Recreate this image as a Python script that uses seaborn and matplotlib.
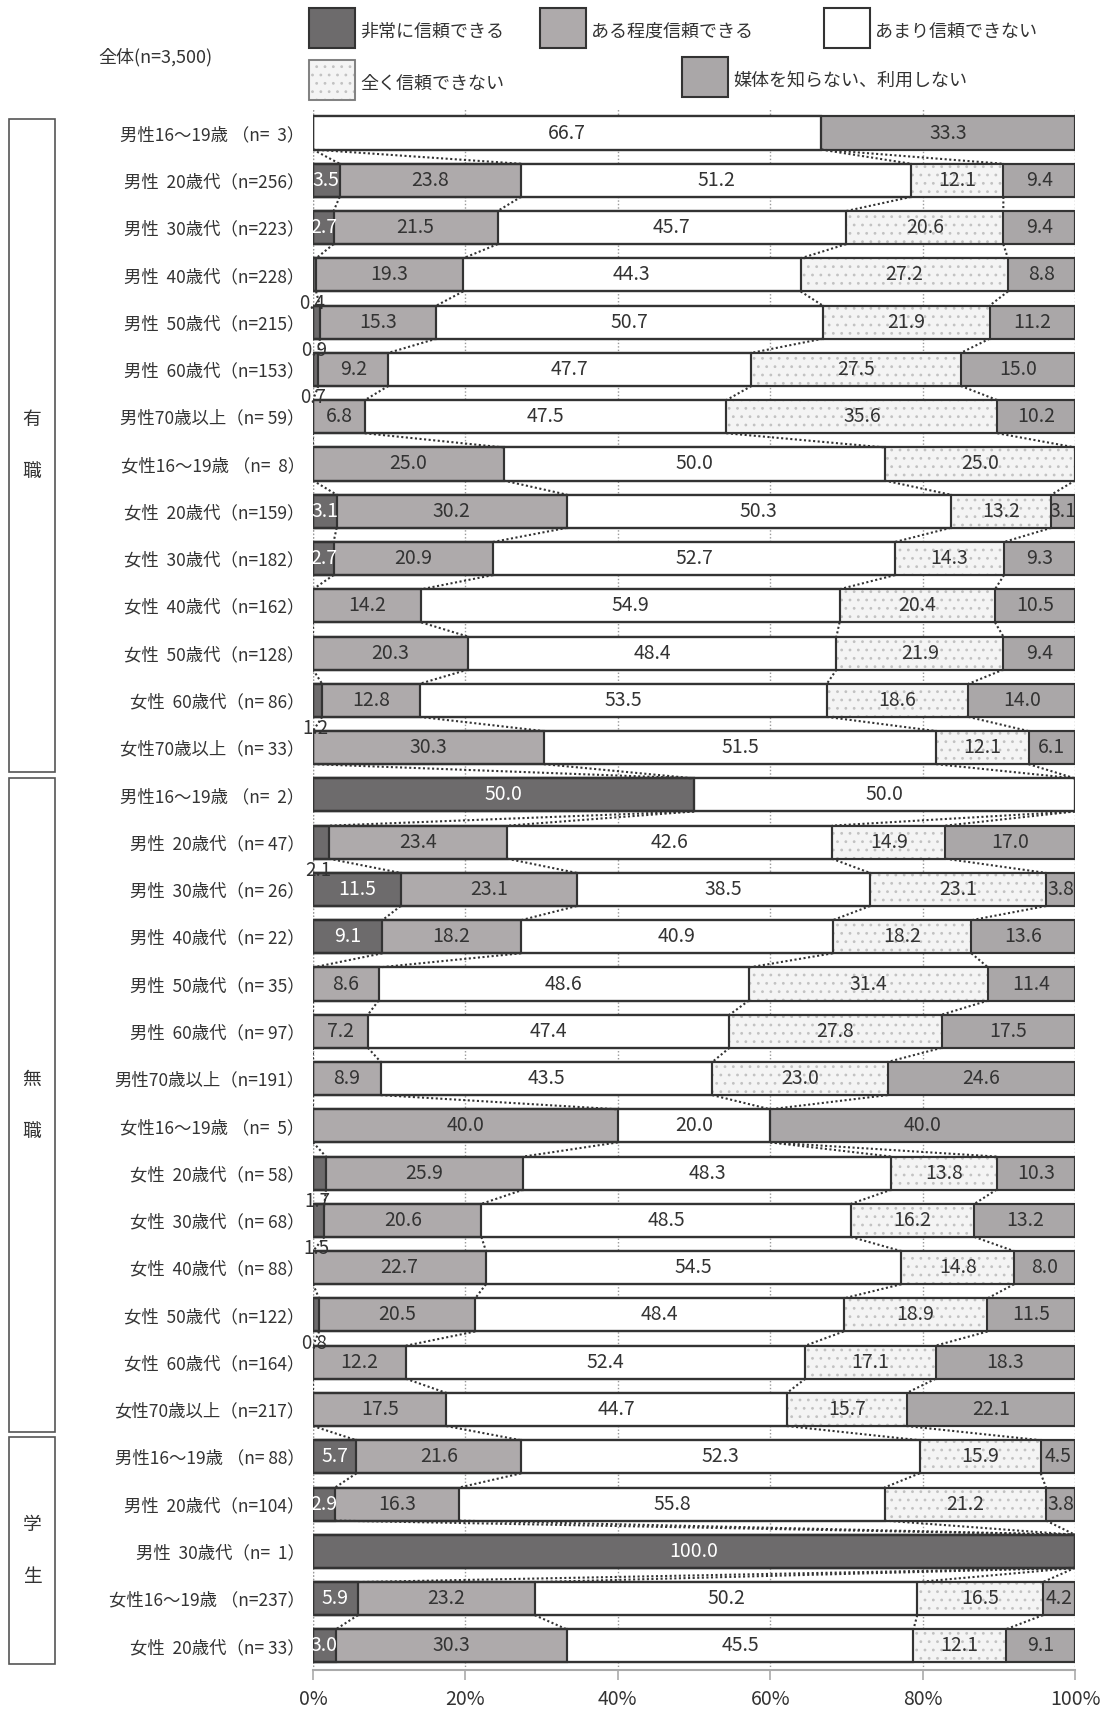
import numpy as np
import seaborn as sns
import matplotlib.pyplot as plt
from matplotlib.patches import Rectangle

sns.set_style('white')
plt.rcParams['font.family'] = ['Noto Sans CJK JP', 'DejaVu Sans']
plt.rcParams['hatch.linewidth'] = 0.8

# データ
row_labels = [
    "男性16～19歳 （n=  3）", "男性  20歳代（n=256）", "男性  30歳代（n=223）", "男性  40歳代（n=228）",
    "男性  50歳代（n=215）", "男性  60歳代（n=153）", "男性70歳以上（n= 59）",
    "女性16～19歳 （n=  8）", "女性  20歳代（n=159）", "女性  30歳代（n=182）", "女性  40歳代（n=162）",
    "女性  50歳代（n=128）", "女性  60歳代（n= 86）", "女性70歳以上（n= 33）",
    "男性16～19歳 （n=  2）", "男性  20歳代（n= 47）", "男性  30歳代（n= 26）", "男性  40歳代（n= 22）",
    "男性  50歳代（n= 35）", "男性  60歳代（n= 97）", "男性70歳以上（n=191）",
    "女性16～19歳 （n=  5）", "女性  20歳代（n= 58）", "女性  30歳代（n= 68）", "女性  40歳代（n= 88）",
    "女性  50歳代（n=122）", "女性  60歳代（n=164）", "女性70歳以上（n=217）",
    "男性16～19歳 （n= 88）", "男性  20歳代（n=104）", "男性  30歳代（n=  1）",
    "女性16～19歳 （n=237）", "女性  20歳代（n= 33）",
]
series_names = ["非常に信頼できる", "ある程度信頼できる", "あまり信頼できない",
                "全く信頼できない", "媒体を知らない、利用しない"]

very = [0, 3.5, 2.7, 0.4, 0.9, 0.7, 0,
        0, 3.1, 2.7, 0, 0, 1.2, 0,
        50.0, 2.1, 11.5, 9.1, 0, 0, 0,
        0, 1.7, 1.5, 0, 0.8, 0, 0,
        5.7, 2.9, 100.0, 5.9, 3.0]
some = [0, 23.8, 21.5, 19.3, 15.3, 9.2, 6.8,
        25.0, 30.2, 20.9, 14.2, 20.3, 12.8, 30.3,
        0, 23.4, 23.1, 18.2, 8.6, 7.2, 8.9,
        40.0, 25.9, 20.6, 22.7, 20.5, 12.2, 17.5,
        21.6, 16.3, 0, 23.2, 30.3]
notmuch = [66.7, 51.2, 45.7, 44.3, 50.7, 47.7, 47.5,
           50.0, 50.3, 52.7, 54.9, 48.4, 53.5, 51.5,
           50.0, 42.6, 38.5, 40.9, 48.6, 47.4, 43.5,
           20.0, 48.3, 48.5, 54.5, 48.4, 52.4, 44.7,
           52.3, 55.8, 0, 50.2, 45.5]
notatall = [0, 12.1, 20.6, 27.2, 21.9, 27.5, 35.6,
            25.0, 13.2, 14.3, 20.4, 21.9, 18.6, 12.1,
            0, 14.9, 23.1, 18.2, 31.4, 27.8, 23.0,
            0, 13.8, 16.2, 14.8, 18.9, 17.1, 15.7,
            15.9, 21.2, 0, 16.5, 12.1]
unknown = [33.3, 9.4, 9.4, 8.8, 11.2, 15.0, 10.2,
           0, 3.1, 9.3, 10.5, 9.4, 14.0, 6.1,
           0, 17.0, 3.8, 13.6, 11.4, 17.5, 24.6,
           40.0, 10.3, 13.2, 8.0, 11.5, 18.3, 22.1,
           4.5, 3.8, 0, 4.2, 9.1]

groups = ["有職", "無職", "学生"]

colors = ["#6d6b6c", "#aeaaab", "#ffffff", "#f4f4f4", "#aaa7a8"]
edge = "#333333"
W, H = 1107, 1712

vals = np.array([very, some, notmuch, notatall, unknown]).T
cum = np.cumsum(vals, axis=1)
cum = cum / cum[:, -1:] * 100
starts = np.hstack([np.zeros((len(vals), 1)), cum[:, :-1]])
rows = list(range(len(row_labels)))

fig = plt.figure(figsize=(W / 100, H / 100), dpi=100)
ax = fig.add_axes([313 / W, 1 - 1670 / H, 762 / W, (1670 - 109.4) / H])

bar_h = 0.7
# 累積値の棒を大きい順に重ねる
for k in reversed(range(5)):
    if k == 3:
        sns.barplot(x=cum[:, k], y=rows, orient='h', color=colors[k], saturation=1,
                    width=bar_h, edgecolor='#c2c2c2', linewidth=0, errorbar=None, ax=ax)
        for p in ax.containers[-1]:
            p.set_hatch('..')
    else:
        sns.barplot(x=cum[:, k], y=rows, orient='h', color=colors[k], saturation=1,
                    width=bar_h, edgecolor=edge, linewidth=1.5, errorbar=None, ax=ax)
# 枠線
for k in range(5):
    sns.barplot(x=cum[:, k], y=rows, orient='h', fill=False, color=edge,
                width=bar_h, linewidth=1.5, errorbar=None, ax=ax)

# 区分線
for i in range(len(rows) - 1):
    for k in range(4):
        ax.plot([cum[i, k], cum[i + 1, k]], [i + bar_h / 2, i + 1 - bar_h / 2],
                ls=(0, (1, 1.2)), color=edge, lw=1.5, zorder=3)

# 数値ラベル
for i in rows:
    for k in range(5):
        v = vals[i, k]
        if v <= 0:
            continue
        xc = starts[i, k] + (cum[i, k] - starts[i, k]) / 2
        if v < 2.5:
            ax.text(xc - 0.3, i + bar_h / 2 + 0.03, f"{v:.1f}", ha='center', va='top',
                    fontsize=13.5, color='#333333', zorder=5)
        else:
            ax.text(xc, i, f"{v:.1f}", ha='center', va='center', fontsize=14,
                    color='white' if k == 0 else '#333333', zorder=5)

ax.set_xlim(0, 100)
ax.set_ylim(32.51, -0.5)
ax.set_xticks([0, 20, 40, 60, 80, 100])
ax.set_xticklabels([f"{t}%" for t in [0, 20, 40, 60, 80, 100]])
ax.set_yticks(rows)
ax.set_yticklabels(row_labels)
ax.set_xlabel('')
ax.set_ylabel('')
ax.set_axisbelow(True)
ax.grid(axis='x', ls=(0, (1, 1.5)), color='#999999', lw=1)
ax.grid(axis='y', visible=False)
ax.axvline(0, ls=(0, (1, 1.5)), color='#999999', lw=1, zorder=0)
for s in ['top', 'right', 'left']:
    ax.spines[s].set_visible(False)
ax.spines['bottom'].set_color('#aaaaaa')
ax.spines['bottom'].set_linewidth(1.5)
ax.tick_params(axis='x', length=7, width=1.2, color='#aaaaaa', pad=7, labelsize=14,
               labelcolor='#333333', bottom=True)
ax.tick_params(axis='y', length=0, pad=6, labelsize=12.5, labelcolor='#333333')

# グループ枠
def fx(x):
    return x / W

def fy(y):
    return 1 - y / H

boxes = [(119, 772), (778, 1432), (1437, 1664)]
for g, (y0, y1) in zip(groups, boxes):
    fig.add_artist(Rectangle((fx(9), fy(y1)), fx(55) - fx(9), (y1 - y0) / H,
                             transform=fig.transFigure, fill=False, edgecolor='#555555', lw=1.2))
    yc = (y0 + y1) / 2
    fig.text(fx(32), fy(yc - 26), g[0], ha='center', va='center', fontsize=13.5, color='#333333')
    fig.text(fx(32), fy(yc + 26), g[1], ha='center', va='center', fontsize=13.5, color='#333333')

# 凡例
fig.text(fx(98), fy(57), "全体(n=3,500)", ha='left', va='center', fontsize=13, color='#333333')
legend_pos = [(309, 8), (540, 8), (824, 8), (309, 60), (682, 57)]
for k, (lx, ly) in enumerate(legend_pos):
    r = Rectangle((fx(lx), fy(ly + 40)), 46 / W, 40 / H, transform=fig.transFigure,
                  facecolor=colors[k], edgecolor=edge, lw=1.5)
    if k == 3:
        r.set_hatch('..')
        r.set_edgecolor('#c2c2c2')
        fig.add_artist(r)
        fig.add_artist(Rectangle((fx(lx), fy(ly + 40)), 46 / W, 40 / H, transform=fig.transFigure,
                                 fill=False, edgecolor='#777777', lw=1.2))
    else:
        fig.add_artist(r)
    fig.text(fx(lx + 51), fy(ly + 24), series_names[k], ha='left', va='center',
             fontsize=13, color='#333333')

fig.savefig('out.png', dpi=100)
